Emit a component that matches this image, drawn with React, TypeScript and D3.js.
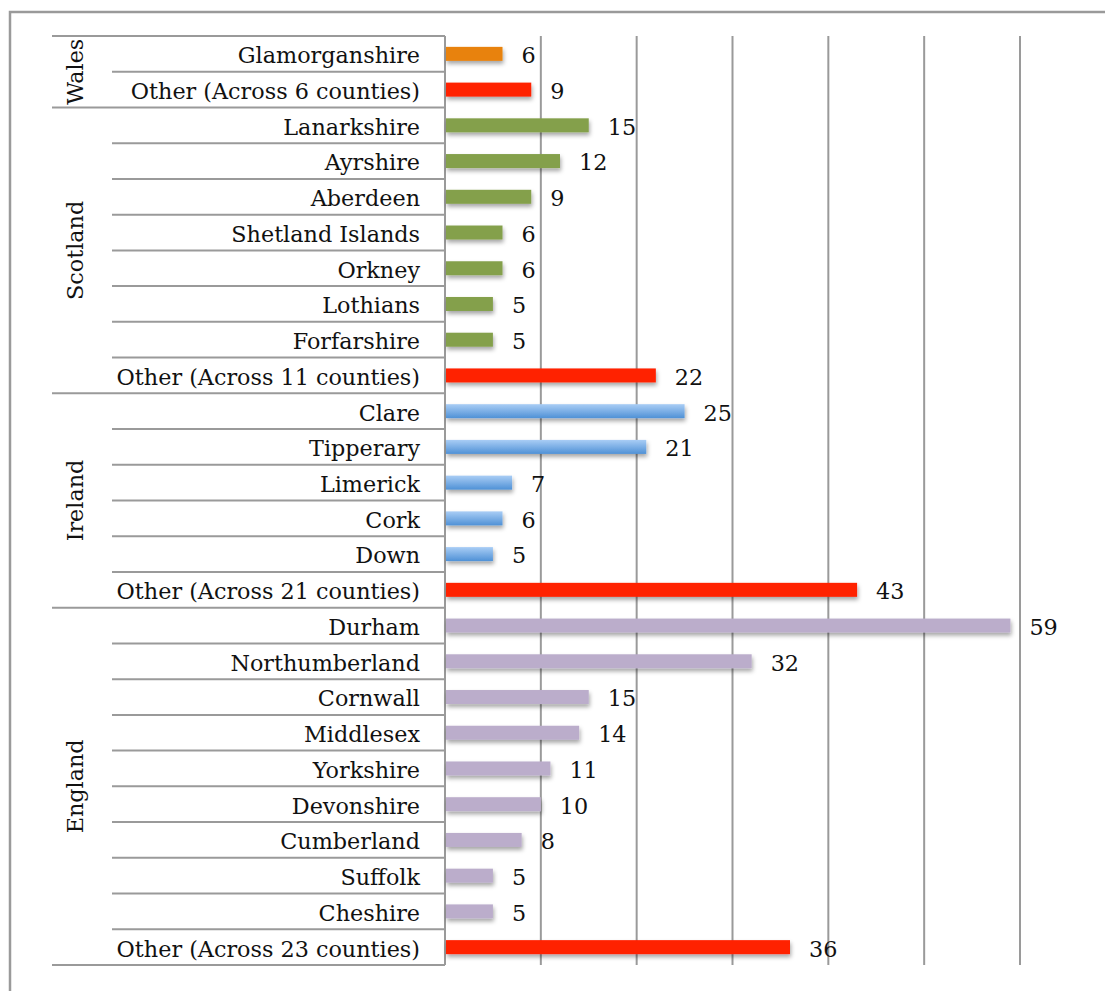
import { useEffect, useRef } from 'react';
import * as d3 from 'd3';

type Row = { group: string, county: string, value: number, kind: string };

const walesCounties = ['Glamorganshire', 'Other (Across 6 counties)'];
const walesValues = [6, 9];

const scotlandCounties = ['Lanarkshire', 'Ayrshire', 'Aberdeen', 'Shetland Islands', 'Orkney', 'Lothians', 'Forfarshire', 'Other (Across 11 counties)'];
const scotlandValues = [15, 12, 9, 6, 6, 5, 5, 22];

const irelandCounties = ['Clare', 'Tipperary', 'Limerick', 'Cork', 'Down', 'Other (Across 21 counties)'];
const irelandValues = [25, 21, 7, 6, 5, 43];

const englandCounties = ['Durham', 'Northumberland', 'Cornwall', 'Middlesex', 'Yorkshire', 'Devonshire', 'Cumberland', 'Suffolk', 'Cheshire', 'Other (Across 23 counties)'];
const englandValues = [59, 32, 15, 14, 11, 10, 8, 5, 5, 36];

const gridTicks = [10, 20, 30, 40, 50, 60];

export default function App() {
    let ref = useRef<SVGSVGElement>(null);

    useEffect(() => {
        const svg = d3.select(ref.current);
        svg.selectAll('*').remove();

        const lists: [string, string[], number[]][] = [
            ['Wales', walesCounties, walesValues],
            ['Scotland', scotlandCounties, scotlandValues],
            ['Ireland', irelandCounties, irelandValues],
            ['England', englandCounties, englandValues],
        ];
        const rows: Row[] = [];
        lists.forEach(([g, cs, vs]) => cs.forEach((c, i) => rows.push({
            group: g, county: c, value: vs[i],
            kind: c.startsWith('Other') ? 'other' : g
        })));

        const font = "'DejaVu Serif', serif";
        const lineColor = '#9a9a9a';
        const top = 36, bottom = 965, left = 445;
        const fs = 22.3;

        const x = d3.scaleLinear().domain([0, 60]).range([left, 1020]);
        const y = d3.scaleBand().domain(rows.map((d, i) => String(i))).range([top, bottom]);

        const defs = svg.append('defs');
        const shadow = defs.append('filter').attr('id', 'shadow')
            .attr('x', '-10%').attr('y', '-50%').attr('width', '120%').attr('height', '250%');
        shadow.append('feDropShadow').attr('dx', 1).attr('dy', 3).attr('stdDeviation', 2)
            .attr('flood-color', '#000').attr('flood-opacity', 0.35);
        const blue = defs.append('linearGradient').attr('id', 'blue')
            .attr('x1', 0).attr('y1', 0).attr('x2', 0).attr('y2', 1);
        blue.append('stop').attr('offset', '0%').attr('stop-color', '#a9cdf5');
        blue.append('stop').attr('offset', '100%').attr('stop-color', '#4f91d6');

        const fill = (d: Row) => {
            if (d.kind === 'other') return '#ff2200';
            if (d.kind === 'Wales') return '#e8820c';
            if (d.kind === 'Scotland') return '#84a04c';
            if (d.kind === 'Ireland') return 'url(#blue)';
            return '#bbadcb';
        };

        // outer frame
        svg.append('path').attr('d', 'M10,1000 L10,12 L1110,12')
            .attr('fill', 'none').attr('stroke', lineColor).attr('stroke-width', 2.5);

        // gridlines
        svg.selectAll('line.grid').data(gridTicks).join('line')
            .attr('x1', d => x(d)).attr('x2', d => x(d))
            .attr('y1', top).attr('y2', bottom)
            .attr('stroke', lineColor).attr('stroke-width', 2);

        // row separators
        const groupStarts = new Set<number>();
        let acc = 0;
        lists.forEach(([, cs]) => { groupStarts.add(acc); acc += cs.length; });
        groupStarts.add(rows.length);
        const bounds = d3.range(rows.length + 1);
        svg.selectAll('line.sep').data(bounds).join('line')
            .attr('x1', i => groupStarts.has(i) ? 52 : 112).attr('x2', left)
            .attr('y1', i => top + i * y.step()).attr('y2', i => top + i * y.step())
            .attr('stroke', lineColor).attr('stroke-width', 2);

        // axis line
        svg.append('line').attr('x1', left).attr('x2', left).attr('y1', top).attr('y2', bottom)
            .attr('stroke', lineColor).attr('stroke-width', 2);

        // group labels
        let start = 0;
        lists.forEach(([g, cs]) => {
            const cy = top + (start + cs.length / 2) * y.step();
            svg.append('text')
                .attr('transform', `translate(83,${cy}) rotate(-90)`)
                .attr('text-anchor', 'middle')
                .attr('font-family', font).attr('font-size', fs).attr('fill', '#111')
                .text(g);
            start += cs.length;
        });

        // county labels
        svg.selectAll('text.county').data(rows).join('text')
            .attr('x', 420).attr('y', (d, i) => y(String(i))! + y.bandwidth() / 2)
            .attr('dy', '0.42em').attr('text-anchor', 'end')
            .attr('font-family', font).attr('font-size', fs).attr('fill', '#111')
            .text(d => d.county);

        // bars
        const barH = 14;
        svg.selectAll('rect.bar').data(rows).join('rect')
            .attr('x', x(0) + 1)
            .attr('y', (d, i) => y(String(i))! + y.bandwidth() / 2 - barH / 2)
            .attr('width', d => x(d.value) - x(0) - 1)
            .attr('height', barH)
            .attr('fill', fill)
            .attr('filter', 'url(#shadow)');

        // value labels
        svg.selectAll('text.val').data(rows).join('text')
            .attr('x', d => x(d.value) + 19)
            .attr('y', (d, i) => y(String(i))! + y.bandwidth() / 2)
            .attr('dy', '0.42em')
            .attr('font-family', font).attr('font-size', fs).attr('fill', '#111')
            .text(d => d.value);
    }, []);

    return <svg ref={ref} width={1105} height={991}
        style={{ position: 'absolute', left: 0, top: 0, background: '#fff' }}></svg>;
}
